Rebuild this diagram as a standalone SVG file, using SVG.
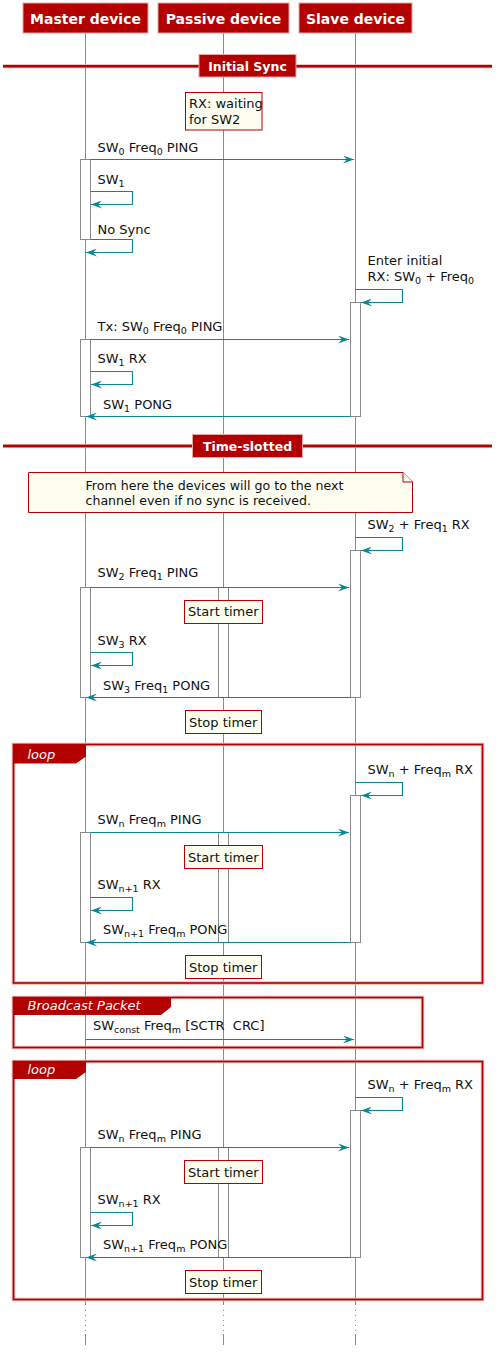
<svg xmlns="http://www.w3.org/2000/svg" width="503" height="1355" viewBox="0 0 503 1355">
<style>
text{font-family:"DejaVu Sans","Liberation Sans",sans-serif;fill:#111;white-space:pre;}
.hdr{fill:#B30000;stroke:#E8A6A6;stroke-width:1;}
.hdrt{font-size:14px;font-weight:bold;fill:#fff;text-anchor:middle;}
.divt{font-size:12.5px;font-weight:bold;fill:#fff;text-anchor:middle;}
.life{stroke:#8a8a8a;stroke-width:1;fill:none;}
.act{fill:#fff;stroke:#8a8a8a;stroke-width:1;}
.msg{stroke:#0B8793;stroke-width:1.2;fill:none;marker-end:url(#ah);}
.t{font-size:13px;}
.s{font-size:9.5px;}
.note{fill:#FEFEF0;stroke:#B30000;stroke-width:1;}
.nt{font-size:13px;}
.nl{font-size:12.6px;}
.frameh{fill:none;stroke:#EBB0B0;stroke-width:3.5;}
.frame{fill:none;stroke:#B30000;stroke-width:1.6;}
.tab{fill:#B30000;stroke:none;}
.tabt{font-size:13px;font-style:italic;fill:#fff;}
.divh{stroke:#EBB0B0;stroke-width:4;}
.div{stroke:#B30000;stroke-width:2.4;}
</style>
<defs>
<marker id="ah" viewBox="0 0 11 8" refX="11" refY="4" markerWidth="11" markerHeight="8" markerUnits="userSpaceOnUse" orient="auto">
<path d="M0,0 L11,4 L0,8 L4,4 Z" fill="#0B8793"/>
</marker>
</defs>
<rect width="503" height="1355" fill="#fff"/>

<g id="lifelines">
<path class="life" d="M85.5,33 V1305 M223.5,33 V1305 M355.5,33 V1305 M85.5,1334 V1345 M223.5,1334 V1345 M355.5,1334 V1345"/>
<path class="life" stroke-dasharray="1,4" d="M85.5,1310 V1333 M223.5,1310 V1333 M355.5,1310 V1333"/>
</g>

<g id="master">
<rect class="hdr" x="23" y="3" width="125" height="30"/>
<text class="hdrt" x="85.5" y="23.5">Master device</text>
</g>
<g id="passive">
<rect class="hdr" x="158" y="3" width="131" height="30"/>
<text class="hdrt" x="223.5" y="23.5">Passive device</text>
</g>
<g id="slave">
<rect class="hdr" x="299" y="3" width="113" height="30"/>
<text class="hdrt" x="355.5" y="23.5">Slave device</text>
</g>

<g id="div-initial">
<line class="divh" x1="3" y1="66.3" x2="492" y2="66.3"/>
<line class="div" x1="3" y1="66.3" x2="492" y2="66.3"/>
<rect class="hdr" x="199" y="54.5" width="97" height="22.5"/>
<text class="divt" x="247.5" y="71">Initial Sync</text>
</g>

<g id="div-timeslotted">
<line class="divh" x1="3" y1="446" x2="492" y2="446"/>
<line class="div" x1="3" y1="446" x2="492" y2="446"/>
<rect class="hdr" x="192.5" y="434.5" width="110" height="23"/>
<text class="divt" x="247.5" y="451">Time-slotted</text>
</g>

<g id="activations">
<rect class="act" x="80.5" y="159.5" width="10" height="80"/>
<rect class="act" x="350.5" y="302.5" width="10" height="114"/>
<rect class="act" x="80.5" y="339.5" width="10" height="77"/>
<rect class="act" x="350.5" y="550.5" width="10" height="147"/>
<rect class="act" x="80.5" y="587.5" width="10" height="110"/>
<rect class="act" x="218.5" y="587.5" width="10" height="110"/>
<rect class="act" x="350.5" y="795.5" width="10" height="147"/>
<rect class="act" x="80.5" y="832.5" width="10" height="110"/>
<rect class="act" x="218.5" y="832.5" width="10" height="110"/>
<rect class="act" x="350.5" y="1110.5" width="10" height="147"/>
<rect class="act" x="80.5" y="1147.5" width="10" height="110"/>
<rect class="act" x="218.5" y="1147.5" width="10" height="110"/>
</g>

<g id="frames">
<g id="loop1">
<rect class="frameh" x="13.5" y="744.5" width="469" height="238.5"/>
<rect class="frame" x="13.5" y="744.5" width="469" height="238.5"/>
<polygon class="tab" points="13.5,744.5 86,744.5 86,756.5 76,763.5 13.5,763.5"/>
<text class="tabt" x="27.5" y="758.5">loop</text>
</g>
<g id="broadcast">
<rect class="frameh" x="13.5" y="997.5" width="409" height="50"/>
<rect class="frame" x="13.5" y="997.5" width="409" height="50"/>
<polygon class="tab" points="13.5,997.5 171,997.5 171,1007 161,1015 13.5,1015"/>
<text class="tabt" x="27.5" y="1010">Broadcast Packet</text>
</g>
<g id="loop2">
<rect class="frameh" x="13.5" y="1061.5" width="469" height="238"/>
<rect class="frame" x="13.5" y="1061.5" width="469" height="238"/>
<polygon class="tab" points="13.5,1061.5 86,1061.5 86,1072 76,1079 13.5,1079"/>
<text class="tabt" x="27.5" y="1073.5">loop</text>
</g>
</g>

<g id="connectors">
<path class="msg" d="M90.5,159.5 H354"/>
<path class="msg" d="M90.5,191.5 H132.5 V204.5 H91"/>
<path class="msg" d="M90.5,239.5 H132.5 V252.5 H86"/>
<path class="msg" d="M355.5,289.5 H402.5 V302.5 H361"/>
<path class="msg" d="M90.5,339.5 H349"/>
<path class="msg" d="M90.5,371.5 H132.5 V384.5 H91"/>
<path class="msg" d="M350.5,416.5 H86"/>
<path class="msg" d="M355.5,537.5 H402.5 V550.5 H361"/>
<path class="msg" d="M90.5,587.5 H349"/>
<path class="msg" d="M90.5,652.5 H132.5 V665.5 H91"/>
<path class="msg" d="M350.5,697.5 H86"/>
<path class="msg" d="M355.5,782.5 H402.5 V795.5 H361"/>
<path class="msg" d="M90.5,832.5 H349"/>
<path class="msg" d="M90.5,897.5 H132.5 V910.5 H91"/>
<path class="msg" d="M350.5,942.5 H86"/>
<path class="msg" d="M85.5,1039.5 H354"/>
<path class="msg" d="M355.5,1097.5 H402.5 V1110.5 H361"/>
<path class="msg" d="M90.5,1147.5 H349"/>
<path class="msg" d="M90.5,1212.5 H132.5 V1225.5 H91"/>
<path class="msg" d="M350.5,1257.5 H86"/>
</g>

<g id="labels">
<text class="t" x="97.5" y="152">SW<tspan class="s" dy="3">0</tspan><tspan dy="-3"> Freq</tspan><tspan class="s" dy="3">0</tspan><tspan dy="-3"> PING</tspan></text>
<text class="t" x="97.5" y="183.5">SW<tspan class="s" dy="3">1</tspan></text>
<text class="t" x="97.5" y="233.5">No Sync</text>
<text class="t" x="367.5" y="265">Enter initial</text>
<text class="t" x="367.5" y="280.5">RX: SW<tspan class="s" dy="3">0</tspan><tspan dy="-3"> + Freq</tspan><tspan class="s" dy="3">0</tspan></text>
<text class="t" x="97.5" y="330.5">Tx: SW<tspan class="s" dy="3">0</tspan><tspan dy="-3"> Freq</tspan><tspan class="s" dy="3">0</tspan><tspan dy="-3"> PING</tspan></text>
<text class="t" x="97.5" y="363">SW<tspan class="s" dy="3">1</tspan><tspan dy="-3"> RX</tspan></text>
<text class="t" x="103" y="408.5">SW<tspan class="s" dy="3">1</tspan><tspan dy="-3"> PONG</tspan></text>
<text class="t" x="367.5" y="529">SW<tspan class="s" dy="3">2</tspan><tspan dy="-3"> + Freq</tspan><tspan class="s" dy="3">1</tspan><tspan dy="-3"> RX</tspan></text>
<text class="t" x="97.5" y="577">SW<tspan class="s" dy="3">2</tspan><tspan dy="-3"> Freq</tspan><tspan class="s" dy="3">1</tspan><tspan dy="-3"> PING</tspan></text>
<text class="t" x="97.5" y="645">SW<tspan class="s" dy="3">3</tspan><tspan dy="-3"> RX</tspan></text>
<text class="t" x="103" y="690">SW<tspan class="s" dy="3">3</tspan><tspan dy="-3"> Freq</tspan><tspan class="s" dy="3">1</tspan><tspan dy="-3"> PONG</tspan></text>
<text class="t" x="367.5" y="773.5">SW<tspan class="s" dy="3">n</tspan><tspan dy="-3"> + Freq</tspan><tspan class="s" dy="3">m</tspan><tspan dy="-3"> RX</tspan></text>
<text class="t" x="97.5" y="823.5">SW<tspan class="s" dy="3">n</tspan><tspan dy="-3"> Freq</tspan><tspan class="s" dy="3">m</tspan><tspan dy="-3"> PING</tspan></text>
<text class="t" x="97.5" y="888.5">SW<tspan class="s" dy="3">n+1</tspan><tspan dy="-3"> RX</tspan></text>
<text class="t" x="103" y="933.5">SW<tspan class="s" dy="3">n+1</tspan><tspan dy="-3"> Freq</tspan><tspan class="s" dy="3">m</tspan><tspan dy="-3"> PONG</tspan></text>
<text class="t" x="93" y="1030" xml:space="preserve">SW<tspan class="s" dy="3">const</tspan><tspan dy="-3"> Freq</tspan><tspan class="s" dy="3">m</tspan><tspan dy="-3"> [SCTR  CRC]</tspan></text>
<text class="t" x="367.5" y="1088.5">SW<tspan class="s" dy="3">n</tspan><tspan dy="-3"> + Freq</tspan><tspan class="s" dy="3">m</tspan><tspan dy="-3"> RX</tspan></text>
<text class="t" x="97.5" y="1138.5">SW<tspan class="s" dy="3">n</tspan><tspan dy="-3"> Freq</tspan><tspan class="s" dy="3">m</tspan><tspan dy="-3"> PING</tspan></text>
<text class="t" x="97.5" y="1204">SW<tspan class="s" dy="3">n+1</tspan><tspan dy="-3"> RX</tspan></text>
<text class="t" x="103" y="1248.5">SW<tspan class="s" dy="3">n+1</tspan><tspan dy="-3"> Freq</tspan><tspan class="s" dy="3">m</tspan><tspan dy="-3"> PONG</tspan></text>
</g>

<g id="note-waiting">
<rect class="note" x="185.5" y="92.5" width="76.5" height="37.5"/>
<text class="nt" x="189" y="108">RX: waiting</text>
<text class="nt" x="189" y="124">for SW2</text>
</g>
<g id="note-timeslotted">
<path class="note" d="M28.5,472.5 H403 L412.5,482 V512.5 H28.5 Z"/>
<path class="note" d="M403,472.5 V482 H412.5"/>
<text class="nl" x="85.5" y="489.5">From here the devices will go to the next</text>
<text class="nl" x="85.5" y="504.5">channel even if no sync is received.</text>
</g>
<g id="note-start1">
<rect class="note" x="184.5" y="600.5" width="78" height="23"/>
<text class="nt" x="188" y="616">Start timer</text>
</g>
<g id="note-stop1">
<rect class="note" x="185.5" y="710.5" width="76" height="23"/>
<text class="nt" x="189" y="727">Stop timer</text>
</g>
<g id="note-start2">
<rect class="note" x="184.5" y="845.5" width="78" height="23"/>
<text class="nt" x="188" y="861.5">Start timer</text>
</g>
<g id="note-stop2">
<rect class="note" x="185.5" y="955.5" width="76" height="23"/>
<text class="nt" x="189" y="972">Stop timer</text>
</g>
<g id="note-start3">
<rect class="note" x="184.5" y="1160.5" width="78" height="23"/>
<text class="nt" x="188" y="1176.5">Start timer</text>
</g>
<g id="note-stop3">
<rect class="note" x="185.5" y="1270.5" width="76" height="23"/>
<text class="nt" x="189" y="1287">Stop timer</text>
</g>
</svg>
